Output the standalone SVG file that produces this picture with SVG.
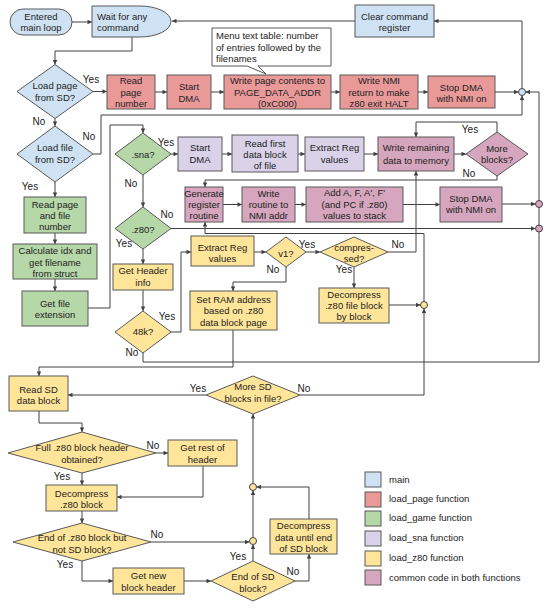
<svg xmlns="http://www.w3.org/2000/svg" width="550" height="608" viewBox="0 0 550 608">
<style>
text{font-family:"Liberation Sans",Arial,sans-serif;font-size:9.5px;fill:#222}
.c{text-anchor:middle}
.lb{font-size:10px;text-anchor:middle}
.n{stroke:#595959;stroke-width:1}
.blue{fill:#cfe2f3}.red{fill:#ea9999}.green{fill:#b6d7a8}.lav{fill:#d9d2e9}.yel{fill:#ffe599}.pink{fill:#d5a6bd}
.e{fill:none;stroke:#404040;stroke-width:1}
.ea{fill:none;stroke:#404040;stroke-width:1;marker-end:url(#a)}
.ring{stroke:#404040;stroke-width:1}
</style>
<defs>
<marker id="a" viewBox="0 0 10 10" refX="10" refY="5" markerWidth="5" markerHeight="4.5" orient="auto" markerUnits="userSpaceOnUse"><path d="M0,0 L10,5 L0,10 z" fill="#404040"/></marker>
</defs>
<rect width="550" height="608" fill="#fff"/>

<g id="connectors">
<path class="ea" d="M72,22 H92"/>
<path class="ea" d="M355,21 H172"/>
<path class="ea" d="M132,37 V51 H55 V64.5"/>
<path class="ea" d="M93,91.5 H107"/>
<path class="ea" d="M155,92 H167"/>
<path class="ea" d="M211,92 H224"/>
<path class="ea" d="M331,92 H340"/>
<path class="ea" d="M418,92 H428"/>
<path class="ea" d="M495,92 H518.5"/>
<path class="ea" d="M522,88.5 V21 H434"/>
<path class="ea" d="M55,118.5 V126"/>
<path class="ea" d="M93,154 H101 V115 H522 V95.5"/>
<path class="ea" d="M55,182 V197"/>
<path class="ea" d="M55,233 V244"/>
<path class="ea" d="M55,279 V291"/>
<path class="ea" d="M88,308 H110 V125 H143 V133"/>
<path class="ea" d="M171,154 H178"/>
<path class="ea" d="M222,154 H232"/>
<path class="ea" d="M298,154 H305"/>
<path class="ea" d="M364,154 H378"/>
<path class="ea" d="M454,154 H466"/>
<path class="ea" d="M497,132 V122 H416 V137"/>
<path class="ea" d="M497,176 V180 H205 V187"/>
<path class="ea" d="M223,204.5 H242"/>
<path class="ea" d="M295,204.5 H306"/>
<path class="ea" d="M403,204.5 H440"/>
<path class="ea" d="M502,204 H535.5"/>
<path class="ea" d="M143,175 V207"/>
<path class="ea" d="M171,228.5 H535.5"/>
<path class="ea" d="M143,249 V264"/>
<path class="ea" d="M143,290 V311"/>
<path class="ea" d="M171,332 H181 V252 H191"/>
<path class="ea" d="M254,252 H266"/>
<path class="ea" d="M306,252 H320"/>
<path class="ea" d="M286,267 V282 H233 V291"/>
<path class="ea" d="M354,267 V288"/>
<path class="ea" d="M388,252 H416 V171"/>
<path class="ea" d="M389,305 H420.5"/>
<path class="ea" d="M424,301.5 V233.5 H205 V222"/>
<path class="ea" d="M143,353 V362 H539 V92 H525.5"/>
<path class="ea" d="M233,330 V367 H39 V376"/>
<path class="ea" d="M206,395 H68"/>
<path class="ea" d="M300,395 H424 V308.5"/>
<path class="ea" d="M39,411 V423 H82 V432"/>
<path class="ea" d="M156,453 H168"/>
<path class="ea" d="M203,466 V497 H117"/>
<path class="ea" d="M82,473 V485"/>
<path class="ea" d="M82,511 V523"/>
<path class="ea" d="M151,542 H249.5"/>
<path class="ea" d="M82,561 V581 H113"/>
<path class="ea" d="M184,581 H211"/>
<path class="ea" d="M253,561 V544.5"/>
<path class="ea" d="M295,581 H309 V554"/>
<path class="ea" d="M309,519 V487 H256.5"/>
<path class="ea" d="M253,537.5 V490.5"/>
<path class="ea" d="M253,483.5 V414"/>
<circle class="ring blue" cx="522" cy="92" r="3.5"/>
<circle class="ring pink" cx="539" cy="204" r="3.5"/>
<circle class="ring pink" cx="539" cy="228.5" r="3.5"/>
<circle class="ring yel" cx="424" cy="305" r="3.5"/>
<circle class="ring yel" cx="253" cy="487" r="3.5"/>
<circle class="ring yel" cx="253" cy="541" r="3.5"/>
<text class="lb" x="91" y="82.5">Yes</text>
<text class="lb" x="39" y="124.5">No</text>
<text class="lb" x="89" y="139.5">No</text>
<text class="lb" x="30" y="189.5">Yes</text>
<text class="lb" x="166" y="145.5">Yes</text>
<text class="lb" x="131" y="186.5">No</text>
<text class="lb" x="167" y="217.5">No</text>
<text class="lb" x="124" y="246.5">Yes</text>
<text class="lb" x="470" y="132.5">Yes</text>
<text class="lb" x="469" y="176.5">No</text>
<text class="lb" x="307" y="247.5">Yes</text>
<text class="lb" x="273" y="272.5">No</text>
<text class="lb" x="344" y="272.5">Yes</text>
<text class="lb" x="398" y="247.5">No</text>
<text class="lb" x="167" y="319.5">Yes</text>
<text class="lb" x="132" y="355.5">No</text>
<text class="lb" x="198" y="391.5">Yes</text>
<text class="lb" x="304" y="391.5">No</text>
<text class="lb" x="153" y="448.5">No</text>
<text class="lb" x="62" y="479.5">Yes</text>
<text class="lb" x="157" y="537.5">No</text>
<text class="lb" x="65" y="567.5">Yes</text>
<text class="lb" x="238" y="559.5">Yes</text>
<text class="lb" x="293" y="574.5">No</text>
</g>

<g id="n-entered"><rect class="n blue" x="10" y="9" width="62" height="26" rx="13"/><text class="c" x="41" y="19.6">Entered</text><text class="c" x="41" y="30.9">main loop</text></g>
<g id="n-wait"><path class="n blue" d="M92,6 H140 A31,15.5 0 0 1 140,37 H92 Z"/><text x="97" y="19.5">Wait for any</text><text x="97" y="30.8">command</text></g>
<g id="n-clear"><rect class="n blue" x="355" y="5" width="79" height="32"/><text class="c" x="394.5" y="19.5">Clear command</text><text class="c" x="394.5" y="30.8">register</text></g>
<g id="n-note"><path d="M212,28 H331 V66 H258 L266,74 L247,66 H212 Z" fill="#fff" stroke="#595959"/><text x="216" y="39.4">Menu text table: number</text><text x="216" y="51">of entries followed by the</text><text x="216" y="62.4">filenames</text></g>

<g id="n-loadpage"><polygon class="n blue" points="55,64.5 93,91.5 55,118.5 17,91.5"/><text class="c" x="55" y="89.4">Load page</text><text class="c" x="55" y="101">from SD?</text></g>
<g id="n-readpage"><rect class="n red" x="107" y="75" width="48" height="34"/><text class="c" x="131" y="84">Read</text><text class="c" x="131" y="95.5">page</text><text class="c" x="131" y="107">number</text></g>
<g id="n-startdma1"><rect class="n red" x="167" y="75" width="44" height="34"/><text class="c" x="189" y="90">Start</text><text class="c" x="189" y="101.5">DMA</text></g>
<g id="n-writepage"><rect class="n red" x="224" y="75" width="107" height="34"/><text class="c" x="277.5" y="84.4">Write page contents to</text><text class="c" x="277.5" y="95.7">PAGE_DATA_ADDR</text><text class="c" x="277.5" y="106.8">(0xC000)</text></g>
<g id="n-writenmi"><rect class="n red" x="340" y="75" width="78" height="34"/><text class="c" x="379" y="84.4">Write NMI</text><text class="c" x="379" y="95.7">return to make</text><text class="c" x="379" y="106.8">z80 exit HALT</text></g>
<g id="n-stopdma1"><rect class="n red" x="428" y="76" width="67" height="32"/><text class="c" x="461.5" y="90.7">Stop DMA</text><text class="c" x="461.5" y="101.9">with NMI on</text></g>

<g id="n-loadfile"><polygon class="n blue" points="55,126 93,154 55,182 17,154"/><text class="c" x="55" y="151">Load file</text><text class="c" x="55" y="162.7">from SD?</text></g>
<g id="n-readpf"><rect class="n green" x="24" y="197" width="62" height="36"/><text class="c" x="55" y="207.7">Read page</text><text class="c" x="55" y="218.9">and file</text><text class="c" x="55" y="230.1">number</text></g>
<g id="n-calc"><rect class="n green" x="13" y="244" width="84" height="35"/><text class="c" x="55" y="254.4">Calculate idx and</text><text class="c" x="55" y="265.5">get filename</text><text class="c" x="55" y="276.7">from struct</text></g>
<g id="n-ext"><rect class="n green" x="22" y="291" width="66" height="35"/><text class="c" x="55" y="307.1">Get file</text><text class="c" x="55" y="318.2">extension</text></g>

<g id="n-sna"><polygon class="n green" points="143,133 171,154 143,175 115,154"/><text class="c" x="143" y="158">.sna?</text></g>
<g id="n-startdma2"><rect class="n lav" x="178" y="137" width="44" height="34"/><text class="c" x="200" y="151">Start</text><text class="c" x="200" y="163.4">DMA</text></g>
<g id="n-readfirst"><rect class="n lav" x="232" y="135" width="66" height="37"/><text class="c" x="265" y="146.7">Read first</text><text class="c" x="265" y="157.8">data block</text><text class="c" x="265" y="168.8">of file</text></g>
<g id="n-extract1"><rect class="n lav" x="305" y="137" width="59" height="34"/><text class="c" x="334.5" y="151">Extract Reg</text><text class="c" x="334.5" y="163.4">values</text></g>
<g id="n-writerem"><rect class="n pink" x="378" y="137" width="76" height="34"/><text class="c" x="416" y="151.2">Write remaining</text><text class="c" x="416" y="163.5">data to memory</text></g>
<g id="n-more"><polygon class="n pink" points="497,132 528,154 497,176 466,154"/><text class="c" x="497" y="151.7">More</text><text class="c" x="497" y="162.9">blocks?</text></g>

<g id="n-gen"><rect class="n pink" x="185" y="187" width="38" height="35"/><text class="c" x="204" y="196.7">Generate</text><text class="c" x="204" y="207.8">register</text><text class="c" x="204" y="218.8">routine</text></g>
<g id="n-writert"><rect class="n pink" x="242" y="187" width="53" height="35"/><text class="c" x="268.5" y="196.7">Write</text><text class="c" x="268.5" y="207.8">routine to</text><text class="c" x="268.5" y="218.8">NMI addr</text></g>
<g id="n-add"><rect class="n pink" x="306" y="187" width="97" height="35"/><text class="c" x="354.5" y="196.3">Add A, F, A', F'</text><text class="c" x="354.5" y="207.8">(and PC if .z80)</text><text class="c" x="354.5" y="218.8">values to stack</text></g>
<g id="n-stopdma2"><rect class="n pink" x="440" y="187" width="62" height="35"/><text class="c" x="471" y="202">Stop DMA</text><text class="c" x="471" y="213.4">with NMI on</text></g>

<g id="n-z80"><polygon class="n green" points="143,207 171,228.5 143,249 115,228.5"/><text class="c" x="143" y="232.6">.z80?</text></g>
<g id="n-header"><rect class="n yel" x="113" y="264" width="60" height="26"/><text class="c" x="143" y="274.4">Get Header</text><text class="c" x="143" y="286">info</text></g>
<g id="n-48k"><polygon class="n yel" points="143,311 171,332 143,353 115,332"/><text class="c" x="143" y="334.9">48k?</text></g>
<g id="n-extract2"><rect class="n yel" x="191" y="236" width="63" height="30"/><text class="c" x="222.5" y="251">Extract Reg</text><text class="c" x="222.5" y="262.3">values</text></g>
<g id="n-v1"><polygon class="n yel" points="286,237 306,252 286,267 266,252"/><text class="c" x="286" y="256.5">v1?</text></g>
<g id="n-compr"><polygon class="n yel" points="354,237 388,252 354,267 320,252"/><text class="c" x="354" y="250.5">compres-</text><text class="c" x="354" y="261.8">sed?</text></g>
<g id="n-setram"><rect class="n yel" x="190" y="291" width="87" height="39"/><text class="c" x="233.5" y="303">Set RAM address</text><text class="c" x="233.5" y="314.4">based on .z80</text><text class="c" x="233.5" y="325.8">data block page</text></g>
<g id="n-decomp1"><rect class="n yel" x="319" y="288" width="70" height="35"/><text class="c" x="354" y="298.4">Decompress</text><text class="c" x="354" y="309.4">.z80 file block</text><text class="c" x="354" y="320.4">by block</text></g>

<g id="n-readsd"><rect class="n yel" x="9" y="376" width="59" height="35"/><text class="c" x="38.5" y="392.7">Read SD</text><text class="c" x="38.5" y="403.8">data block</text></g>
<g id="n-moresd"><polygon class="n yel" points="253,376 300,395 253,414 206,395"/><text class="c" x="253" y="390.4">More SD</text><text class="c" x="253" y="402">blocks in file?</text></g>
<g id="n-full"><polygon class="n yel" points="82,432 156,453 82,473 8,453"/><text class="c" x="82" y="451.4">Full .z80 block header</text><text class="c" x="82" y="462.5">obtained?</text></g>
<g id="n-getrest"><rect class="n yel" x="168" y="440" width="69" height="26"/><text class="c" x="202.5" y="451.4">Get rest of</text><text class="c" x="202.5" y="462.5">header</text></g>
<g id="n-decomp2"><rect class="n yel" x="46" y="485" width="71" height="26"/><text class="c" x="81.5" y="496.7">Decompress</text><text class="c" x="81.5" y="507.5">.z80 block</text></g>
<g id="n-endz80"><polygon class="n yel" points="82,523 151,542 82,561 13,542"/><text class="c" x="82" y="541.4">End of .z80 block but</text><text class="c" x="82" y="552.5">not SD block?</text></g>
<g id="n-getnew"><rect class="n yel" x="113" y="568" width="71" height="26"/><text class="c" x="148.5" y="579">Get new</text><text class="c" x="148.5" y="590.7">block header</text></g>
<g id="n-endsd"><polygon class="n yel" points="253,561 295,581 253,601 211,581"/><text class="c" x="253" y="580">End of SD</text><text class="c" x="253" y="591.7">block?</text></g>
<g id="n-decomp3"><rect class="n yel" x="270" y="519" width="67" height="35"/><text class="c" x="303.5" y="529">Decompress</text><text class="c" x="303.5" y="540.5">data until end</text><text class="c" x="303.5" y="551.8">of SD block</text></g>

<g id="legend">
<rect class="n blue" x="365" y="472" width="16" height="15"/><text x="389" y="482.9">main</text>
<rect class="n red" x="365" y="492" width="16" height="15"/><text x="389" y="501.9">load_page function</text>
<rect class="n green" x="365" y="511" width="16" height="15"/><text x="389" y="521.2">load_game function</text>
<rect class="n lav" x="365" y="531" width="16" height="15"/><text x="389" y="540.6">load_sna function</text>
<rect class="n yel" x="365" y="551" width="16" height="15"/><text x="389" y="561.4">load_z80 function</text>
<rect class="n pink" x="365" y="570" width="16" height="15"/><text x="389" y="580.6">common code in both functions</text>
</g>
</svg>
